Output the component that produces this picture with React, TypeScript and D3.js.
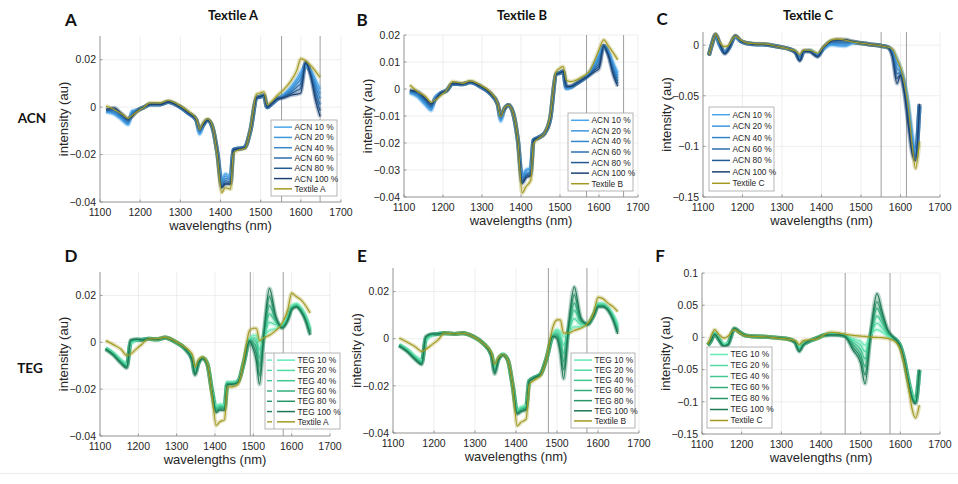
import * as d3 from 'd3'

// wavelength grids (nm)
const waveAB = [1115, 1135, 1155, 1170, 1180, 1195, 1210, 1225, 1250, 1270, 1295, 1320, 1340, 1348, 1357, 1368, 1380, 1392, 1403, 1412, 1425, 1432, 1445, 1460, 1475, 1490, 1500, 1508, 1516, 1528, 1542, 1558, 1575, 1590, 1600, 1612, 1625, 1637, 1648]
const waveC = [1115, 1122, 1132, 1142, 1155, 1165, 1182, 1195, 1210, 1230, 1260, 1290, 1320, 1335, 1345, 1355, 1370, 1390, 1405, 1425, 1440, 1460, 1480, 1500, 1511, 1525, 1541, 1555, 1568, 1580, 1591, 1600, 1610, 1620, 1630, 1638, 1648]

// intensities, in thousandths of au
const textileA = [0.5, -1, -3, -4.7, -3.5, -1.5, 0, 1.8, 1.7, 2.8, 1, -1.8, -5, -9.5, -6.5, -5, -8, -20, -36, -34, -34.5, -19.5, -18, -17.5, -9, 5.5, 6, 6.5, 1, 2.5, 5, 7.5, 11, 15.5, 20.5, 19.5, 17.5, 15, 12.5]
const acnA10 = [-2, -3, -5.5, -7.5, -1.5, -1.2, 0, 1.2, 1.2, 2.2, 0.5, -2.5, -5.5, -11.5, -7.5, -5.5, -8.5, -19, -30, -28, -29, -18, -17.5, -17, -9.5, 4, 4.5, 5, 0, 1.5, 3.5, 5.5, 8.5, 12, 15, 17, 15.5, 11.5, 7.5]
const acnA20 = [-1.8, -2.6, -5, -7, -2, -1.2, 0, 1.2, 1.2, 2.2, 0.5, -2.5, -5.5, -11, -7.5, -5.5, -8.5, -19, -31, -29, -30, -18, -17.5, -17, -9.5, 4, 4.5, 5, 0, 1.5, 3.5, 5.2, 7.8, 11, 13.5, 17.5, 15, 10, 5.5]
const acnA40 = [-1.6, -2.2, -4.5, -6.5, -2.5, -1.2, 0, 1.2, 1.2, 2.2, 0.5, -2.5, -5.5, -10.5, -7.5, -5.5, -8.5, -19, -32, -30, -30.5, -18, -17.5, -17, -9.5, 4, 4.5, 5, 0, 1.5, 3.5, 4.9, 7, 9.8, 12, 18, 14.5, 8.5, 3.5]
const acnA60 = [-1.4, -1.6, -4, -6, -3, -1.2, 0, 1.2, 1.2, 2.2, 0.5, -2.5, -5.5, -10, -7.5, -5.5, -8.5, -19, -33, -31, -31.5, -18, -17.5, -17, -9.5, 4, 4.5, 5, 0, 1.5, 3.5, 4.6, 6.3, 8.5, 10, 18.5, 14, 6.5, 1]
const acnA80 = [-1.2, -1, -3.5, -5.5, -3.5, -1.2, 0, 1.2, 1.2, 2.2, 0.5, -2.5, -5.5, -9.5, -7.5, -5.5, -8.5, -19, -33.5, -32, -32, -18, -17.5, -17, -9.5, 4, 4.5, 5, 0, 1.5, 3.5, 4.3, 5.6, 7, 8, 19, 13.5, 4.5, -1.5]
const acnA100 = [-1, -0.3, -3, -5, -4, -1.2, 0, 1.2, 1.2, 2.2, 0.5, -2.5, -5.5, -9.5, -7.5, -5.5, -8.5, -19, -34, -32.5, -32.5, -18, -17.5, -17, -9.5, 4, 4.5, 5, 0, 1.5, 3.5, 4, 5, 5.5, 6, 19, 13, 2.5, -4]

const textileB = [1.5, -1, -2.8, -5, -4, -2.2, -0.4, 2.7, 2.1, 3, 1.5, -1, -5.3, -10.3, -7.2, -6, -9, -19, -38.5, -36.3, -33.8, -20.2, -18.3, -16.5, -10.3, 6.4, 7.7, 8.3, 3.3, 2.7, 3.3, 4.6, 6.4, 10.8, 14.5, 18.2, 15.7, 13.3, 10.8]
const acnB10 = [-1.5, -3, -6, -8, -3, -1.5, -0.5, 2, 1.8, 2.5, 1, -1.5, -5.5, -12, -7.5, -6, -9, -19, -32, -30, -29, -19, -18, -16.5, -11, 5.5, 6, 6.5, 0, 0.5, 2, 3.5, 6, 10, 13, 16, 13.5, 9.5, 6]
const acnB20 = [-1.3, -2.6, -5.5, -7.5, -3.2, -1.5, -0.5, 2, 1.8, 2.5, 1, -1.5, -5.5, -11.5, -7.5, -6, -9, -19, -32.5, -30.5, -29.5, -19, -18, -16.5, -11, 5.5, 6, 6.5, 0.2, 0.6, 2, 3.5, 5.8, 9.3, 12, 16, 13.3, 8.7, 5]
const acnB40 = [-1.1, -2.2, -5, -7, -3.4, -1.5, -0.5, 2, 1.8, 2.5, 1, -1.5, -5.5, -11, -7.5, -6, -9, -19, -33, -31.5, -30.5, -19, -18, -16.5, -11, 5.5, 6, 6.5, 0.4, 0.7, 2, 3.5, 5.6, 8.6, 11, 16, 13, 7.9, 4]
const acnB60 = [-0.9, -1.8, -4.5, -6.5, -3.6, -1.5, -0.5, 2, 1.8, 2.5, 1, -1.5, -5.5, -10.5, -7.5, -6, -9, -19, -34, -32, -31, -19, -18, -16.5, -11, 5.5, 6, 6.5, 0.6, 0.8, 2, 3.5, 5.4, 7.9, 9.5, 16, 12.6, 7, 3]
const acnB80 = [-0.7, -1.4, -4, -6, -3.8, -1.5, -0.5, 2, 1.8, 2.5, 1, -1.5, -5.5, -10, -7.5, -6, -9, -19, -34.5, -32.5, -31.5, -19, -18, -16.5, -11, 5.5, 6, 6.5, 0.8, 0.9, 2, 3.5, 5.2, 7.2, 8.5, 16, 12.3, 6, 2]
const acnB100 = [-0.5, -1, -3.5, -5.5, -4, -1.5, -0.5, 2, 1.8, 2.5, 1, -1.5, -5.5, -10, -7.5, -6, -9, -19, -35, -33, -32, -19, -18, -16.5, -11, 5.5, 6, 6.5, 1, 1, 2, 3.5, 5, 6.5, 7.5, 16, 12, 5, 1]

const textileC = [-10, 0, 11, 3, -1.5, 0, 9, 5, 2.3, 1.5, 1, -1.5, -4, -6, -9, -5, -5, -8, -2, 5, 6, 5, 3, 2, 1.5, 0.5, 0, -1, -2, -4, -14, -22, -38, -62, -100, -122, -95]
const acnC10 = [-10, 0, 9, 0, -6, -3, 8, 4, 2, 1, 0.5, -1.5, -4, -7, -13, -6, -5, -9, -4, 0, -0.5, -1, 2, 2, 1.5, 0.5, 0, -1, -2, -5, -13, -22, -36, -58, -88, -104, -61]
const acnC20 = [-10, 0, 9.5, 0.5, -6.5, -3, 8.5, 4, 2, 1, 0.5, -1.5, -4, -7, -13.5, -6, -5.5, -9.5, -3.5, 1, 0.5, 0, 2.5, 2, 1.5, 0.5, 0, -1, -2, -6, -18, -24, -38, -62, -92, -106, -60]
const acnC40 = [-10, 0, 10, 1, -7, -3, 8.5, 4, 2, 1, 0.5, -1.5, -4, -7, -14, -6, -5.5, -10, -3, 2, 2, 1.5, 3, 2, 1.5, 0.5, 0, -1, -2, -7, -23, -26, -40, -66, -96, -108, -60]
const acnC60 = [-10, 0, 10, 1, -7.5, -3.5, 9, 4, 2, 1, 0.5, -1.5, -4, -7.5, -14.5, -6, -6, -10.5, -3, 3, 3, 3, 3, 2, 1.5, 0.5, 0, -1, -2, -9, -28, -27, -43, -70, -100, -110, -59]
const acnC80 = [-10, 0, 10.5, 1.5, -8, -3.5, 9, 4, 2, 1, 0.5, -1.5, -4, -7.5, -15, -6, -6, -11, -2.5, 4, 4.5, 4.5, 3.5, 2, 1.5, 0.5, 0, -1, -2, -11, -33, -29, -46, -75, -104, -112, -58]
const acnC100 = [-10, 0, 11, 2, -8.5, -3.5, 9.5, 4.5, 2, 1, 0.5, -1.5, -4, -8, -15.5, -6, -6.5, -11.5, -2.5, 4, 5.5, 5.5, 3.5, 2, 1.5, 0.5, 0, -1, -2, -12, -38, -30, -48, -80, -108, -114, -58]

const textileAteg = [0.7, -1, -3, -5.6, -5, -2.8, -0.7, 1.4, 1.5, 2.1, 0.5, -2, -5, -10.5, -7.5, -6.3, -9, -22, -35.5, -34, -33, -19, -19, -18, -8, 5, 6, 6, 0.7, 2, 3, 5, 8, 14, 21, 19.5, 18, 15.5, 12.5]
const tegD10 = [-2.5, -4.5, -7.5, -9, -1, 0.8, 1, 1.5, 1.2, 2, 0.3, -2.5, -6.5, -12, -8.5, -6.5, -9, -20, -27, -26.5, -26.5, -17, -17, -16.5, -8.5, 1.5, 3, 3, 0.5, 2.5, 5, 5.8, 7.5, 11, 15.5, 16.5, 14.5, 11, 6]
const tegD20 = [-2.6, -4.7, -7.8, -9.4, -0.5, 0.9, 1, 1.5, 1.2, 2, 0.3, -2.5, -6.7, -12.4, -8.6, -6.6, -9.1, -20.2, -27.6, -27, -27, -17.2, -17.2, -16.6, -8.6, 1.2, 2, 1.5, -3, 2.8, 8.5, 7.5, 7.2, 10.7, 15.2, 16.2, 14.2, 10.6, 5.4]
const tegD40 = [-2.7, -4.9, -8.1, -9.8, 0, 1, 1, 1.5, 1.2, 2, 0.3, -2.5, -6.9, -12.8, -8.7, -6.7, -9.2, -20.4, -28.2, -27.5, -27.5, -17.4, -17.4, -16.7, -8.7, 1, 1, 0, -6.5, 3.2, 12, 8.8, 6.9, 10.4, 14.9, 15.9, 13.9, 10.2, 4.8]
const tegD60 = [-2.8, -5.1, -8.4, -10.2, 0.4, 1.1, 1, 1.5, 1.2, 2, 0.3, -2.5, -7.1, -13.2, -8.8, -6.8, -9.3, -20.6, -28.8, -28, -28, -17.6, -17.6, -16.8, -8.8, 0.8, 0, -2.5, -10, 3.6, 15.5, 9.8, 6.6, 10.1, 14.6, 15.6, 13.6, 9.8, 4.2]
const tegD80 = [-2.9, -5.3, -8.7, -10.6, 0.7, 1.2, 1, 1.5, 1.2, 2, 0.3, -2.5, -7.3, -13.6, -8.9, -6.9, -9.4, -20.8, -29.4, -28.5, -28.5, -17.8, -17.8, -16.9, -8.9, 0.6, -1.5, -5, -14, 4, 19.5, 10.6, 6.3, 9.8, 14.3, 15.3, 13.3, 9.4, 3.5]
const tegD100 = [-3, -5.5, -9, -11, 1, 1.3, 1, 1.5, 1.2, 2, 0.3, -2.5, -7.5, -14, -9, -7, -9.5, -21, -30, -29, -29, -18, -18, -17, -9, 0.5, -3, -8, -18, 4.5, 23, 11.3, 6, 9.5, 14, 15, 13, 9, 3]

const textileBteg = [0.3, -1.5, -3.5, -5.4, -4.5, -2.5, -0.5, 2.4, 2, 2.4, 1, -2, -6, -11, -8, -6.8, -9, -20, -37, -35.5, -34, -19.5, -17.5, -15.5, -8, 5, 8, 8, 2.4, 2.5, 3.5, 4.5, 6.5, 11, 17.5, 17, 15, 13.5, 11.5]
const tegE10 = [-2.5, -4.5, -7.5, -9, -1, 1.5, 2, 2.4, 2, 2.4, 1, -2, -6.5, -11.5, -8.5, -6.5, -9, -20, -30, -29, -28, -18, -16.5, -15, -8, 1.5, 4, 3, 1, 2.5, 5, 5, 6.5, 10.5, 15, 15, 13, 10, 6]
const tegE20 = [-2.6, -4.7, -7.8, -9.4, -0.6, 1.6, 2, 2.4, 2, 2.4, 1, -2, -6.6, -12.2, -8.6, -6.6, -9, -20, -30.4, -29.4, -28.4, -18, -16.5, -15, -8, 1.4, 3.2, 1.5, -2.5, 3, 8.5, 6, 6.4, 10.4, 14.7, 14.7, 12.8, 9.6, 5.2]
const tegE40 = [-2.7, -4.9, -8.1, -9.8, -0.2, 1.7, 2, 2.4, 2, 2.4, 1, -2, -6.7, -12.9, -8.7, -6.7, -9, -20, -30.8, -29.8, -28.8, -18, -16.5, -15, -8, 1.3, 2.4, 0, -6, 3.5, 12, 7, 6.3, 10.3, 14.4, 14.4, 12.6, 9.2, 4.4]
const tegE60 = [-2.8, -5.1, -8.4, -10.2, 0.2, 1.8, 2, 2.4, 2, 2.4, 1, -2, -6.8, -13.6, -8.8, -6.8, -9, -20, -31.2, -30.2, -29.2, -18, -16.5, -15, -8, 1.2, 1.6, -2, -9.5, 4, 15, 7.5, 6.2, 10.2, 14.1, 14.1, 12.4, 8.8, 3.6]
const tegE80 = [-2.9, -5.3, -8.7, -10.6, 0.6, 1.9, 2, 2.4, 2, 2.4, 1, -2, -6.9, -14.3, -8.9, -6.9, -9, -20, -31.6, -30.6, -29.6, -18, -16.5, -15, -8, 1.1, 0.8, -4, -13, 4.5, 18.5, 8.2, 6.1, 10.1, 13.8, 13.8, 12.2, 8.4, 2.8]
const tegE100 = [-3, -5.5, -9, -11, 1, 2, 2, 2.4, 2, 2.4, 1, -2, -7, -15, -9, -7, -9, -20, -32, -31, -30, -18, -16.5, -15, -8, 1, 0, -6, -17, 5, 22, 9, 6, 10, 13.5, 13.5, 12, 8, 2]

const textileCteg = [-11, 0, 12, 5, -1, 1.5, 12, 7, 2.5, 1.5, 1, -1, -3, -5, -11, -5, -4, -2, 3, 8, 7, 5, 3, 2, 1.5, 0.5, 0, -0.5, -1.5, -4, -9, -18, -42, -75, -112, -125, -105]
const tegF10 = [-12, -6, 7, -1, -10, -8, 13, 8, 3, 1.5, 1, -0.5, -3, -7, -15, -10, -6, -1, 3, 6, 5, 3, -2, -6, -12, 3, 12, 8, 2, -1, -5, -13, -34, -64, -88, -96, -52]
const tegF20 = [-12, -6, 6.5, -1.5, -11, -9, 13.2, 8, 3, 1.5, 1, -0.5, -3, -7.2, -16.5, -10.4, -6, -1, 3, 5.6, 4.8, 2.8, -4.5, -12, -22, 3.5, 22, 14, 4, -0.5, -5, -13.2, -34.4, -64.8, -89.4, -97.4, -51.6]
const tegF40 = [-12, -6, 6, -2, -12, -10, 13.4, 8, 3, 1.5, 1, -0.5, -3, -7.4, -18, -10.8, -6, -1, 3, 5.2, 4.6, 2.6, -7.5, -19, -33, 4, 33, 21, 6.5, 0, -5, -13.4, -34.8, -65.6, -90.8, -98.8, -51.2]
const tegF60 = [-12, -6, 5.5, -2.5, -12.5, -10.5, 13.6, 8, 3, 1.5, 1, -0.5, -3, -7.6, -19.5, -11.2, -6, -1, 3, 4.8, 4.4, 2.4, -11, -26, -45, 4.5, 45, 27, 8.5, 0.5, -5, -13.6, -35.2, -66.4, -92.2, -100.2, -50.8]
const tegF80 = [-12, -6, 5, -3, -13.5, -11, 13.8, 8, 3, 1.5, 1, -0.5, -3, -7.8, -21, -11.6, -6, -1, 3, 4.4, 4.2, 2.2, -15, -33, -58, 5, 55, 33, 10.5, 1, -5, -13.8, -35.6, -67.2, -93.6, -101.6, -50.4]
const tegF100 = [-12, -6, 4.5, -3.5, -14, -12, 14, 8, 3, 1.5, 1, -0.5, -3, -8, -22, -12, -6, -1, 3, 4, 4, 2, -19, -40, -72, 5, 68, 38, 12, 1.5, -5, -14, -36, -68, -95, -103, -50]

const acnNames = ['ACN 10 %', 'ACN 20 %', 'ACN 40 %', 'ACN 60 %', 'ACN 80 %', 'ACN 100 %']
const tegNames = ['TEG 10 %', 'TEG 20 %', 'TEG 40 %', 'TEG 60 %', 'TEG 80 %', 'TEG 100 %']
const acnColors = ['#4aa6ea', '#3c96dc', '#3485c9', '#2b6fae', '#245a92', '#1c4272']
const tegColors = ['#66eab6', '#52dba4', '#41c791', '#33ad7c', '#299468', '#1f7854']
const textileColor = '#a39a22'

const FONT = '"Liberation Sans", Arial, sans-serif'
const BOLD = 'Lato, "Open Sans", sans-serif'

interface PanelSpec {
  letter: string
  letterX: number
  letterY: number
  title?: string
  titleX?: number
  left: number
  right: number
  top: number
  bottom: number
  yDomain: [number, number]
  yTicks: number[]
  waves: number[]
  series: number[][]
  textile: number[]
  textileName: string
  colors: string[]
  names: string[]
  marks: number[]
  legend: { x: number; y: number; w: number; h: number; stub?: boolean }
}

const panels: PanelSpec[] = [
  {
    letter: 'A', letterX: 71, letterY: 26, title: 'Textile A', titleX: 233,
    left: 100, right: 341, top: 36, bottom: 202,
    yDomain: [-0.04, 0.03], yTicks: [-0.04, -0.02, 0, 0.02],
    waves: waveAB, series: [acnA10, acnA20, acnA40, acnA60, acnA80, acnA100], textile: textileA,
    textileName: 'Textile A', colors: acnColors, names: acnNames, marks: [1552, 1648],
    legend: { x: 271, y: 120, w: 66, h: 76 }
  },
  {
    letter: 'B', letterX: 362, letterY: 26, title: 'Textile B', titleX: 522,
    left: 404, right: 638, top: 35, bottom: 197,
    yDomain: [-0.04, 0.02], yTicks: [-0.04, -0.03, -0.02, -0.01, 0, 0.01, 0.02],
    waves: waveAB, series: [acnB10, acnB20, acnB40, acnB60, acnB80, acnB100], textile: textileB,
    textileName: 'Textile B', colors: acnColors, names: acnNames, marks: [1568, 1663],
    legend: { x: 568, y: 113, w: 65, h: 78 }
  },
  {
    letter: 'C', letterX: 662, letterY: 25, title: 'Textile C', titleX: 808,
    left: 703, right: 940, top: 32, bottom: 197,
    yDomain: [-0.15, 0.013], yTicks: [-0.15, -0.1, -0.05, 0],
    waves: waveC, series: [acnC10, acnC20, acnC40, acnC60, acnC80, acnC100], textile: textileC,
    textileName: 'Textile C', colors: acnColors, names: acnNames, marks: [1551, 1615],
    legend: { x: 709, y: 107, w: 65, h: 84 }
  },
  {
    letter: 'D', letterX: 71, letterY: 262,
    left: 100, right: 330, top: 272, bottom: 436,
    yDomain: [-0.04, 0.03], yTicks: [-0.04, -0.02, 0, 0.02],
    waves: waveAB, series: [tegD10, tegD20, tegD40, tegD60, tegD80, tegD100], textile: textileAteg,
    textileName: 'Textile A', colors: tegColors, names: tegNames, marks: [1492, 1578],
    legend: { x: 265, y: 353, w: 75, h: 76, stub: true }
  },
  {
    letter: 'E', letterX: 362, letterY: 262,
    left: 393, right: 639, top: 268, bottom: 433,
    yDomain: [-0.04, 0.03], yTicks: [-0.04, -0.02, 0, 0.02],
    waves: waveAB, series: [tegE10, tegE20, tegE40, tegE60, tegE80, tegE100], textile: textileBteg,
    textileName: 'Textile B', colors: tegColors, names: tegNames, marks: [1479, 1573],
    legend: { x: 571, y: 353, w: 64, h: 75 }
  },
  {
    letter: 'F', letterX: 660, letterY: 262,
    left: 702, right: 940, top: 273, bottom: 434,
    yDomain: [-0.15, 0.1], yTicks: [-0.15, -0.1, -0.05, 0, 0.05, 0.1],
    waves: waveC, series: [tegF10, tegF20, tegF40, tegF60, tegF80, tegF100], textile: textileCteg,
    textileName: 'Textile C', colors: tegColors, names: tegNames, marks: [1461, 1574],
    legend: { x: 707, y: 347, w: 65, h: 81 }
  }
]

const fmtY = (v: number) => (v === 0 ? '0' : String(+v.toFixed(3)).replace('-', '\u2212'))

function SpectraPanel({ p }: { p: PanelSpec }) {
  const x = d3.scaleLinear().domain([1100, 1700]).range([p.left, p.right])
  const y = d3.scaleLinear().domain(p.yDomain).range([p.bottom, p.top])
  const line = d3.line<number>()
    .x((_, i) => x(p.waves[i]))
    .y(v => y(v / 1000))
    .curve(d3.curveMonotoneX)
  const xTicks = x.ticks(6)
  const all = [...p.series.map((s, i) => ({ s, c: p.colors[i] })), { s: p.textile, c: textileColor }]
  const lg = p.legend
  const rowH = (lg.h - 4) / 7
  const lx = lg.stub ? lg.x + 9 : lg.x
  const labels = [...p.names, p.textileName]
  const lcolors = [...p.colors, textileColor]

  return (
    <g>
      {/* grid */}
      {xTicks.map(t => (
        <line key={'gx' + t} x1={x(t)} x2={x(t)} y1={p.top} y2={p.bottom} stroke="#e6e6e6" strokeWidth={0.7} />
      ))}
      {p.yTicks.map(t => (
        <line key={'gy' + t} x1={p.left} x2={p.right} y1={y(t)} y2={y(t)} stroke="#e6e6e6" strokeWidth={0.7} />
      ))}
      {/* marker lines */}
      {p.marks.map(m => (
        <line key={'m' + m} x1={x(m)} x2={x(m)} y1={p.top} y2={p.bottom} stroke="#949494" strokeWidth={0.9} />
      ))}
      {/* spectra: band then line */}
      {all.map((d, i) => (
        <path key={'b' + i} d={line(d.s) ?? ''} fill="none" stroke={d.c} strokeOpacity={0.3} strokeWidth={4.2} strokeLinejoin="round" />
      ))}
      {all.map((d, i) => (
        <path key={'l' + i} d={line(d.s) ?? ''} fill="none" stroke={d.c} strokeWidth={1.2} strokeLinejoin="round" />
      ))}
      {/* axes */}
      <line x1={p.left} x2={p.right} y1={p.bottom} y2={p.bottom} stroke="#858585" strokeWidth={0.8} />
      <line x1={p.left} x2={p.left} y1={p.top} y2={p.bottom} stroke="#858585" strokeWidth={0.8} />
      {xTicks.map(t => (
        <g key={'xt' + t}>
          <line x1={x(t)} x2={x(t)} y1={p.bottom} y2={p.bottom - 2.5} stroke="#858585" strokeWidth={0.8} />
          <text x={x(t)} y={p.bottom + 13.5} textAnchor="middle" fontSize={10.5} fill="#262626" fontFamily={FONT}>{t}</text>
        </g>
      ))}
      {p.yTicks.map(t => (
        <g key={'yt' + t}>
          <line x1={p.left} x2={p.left + 2.5} y1={y(t)} y2={y(t)} stroke="#858585" strokeWidth={0.8} />
          <text x={p.left - 4} y={y(t)} dy="0.36em" textAnchor="end" fontSize={10.5} fill="#262626" fontFamily={FONT}>{fmtY(t)}</text>
        </g>
      ))}
      <text x={(p.left + p.right) / 2} y={p.bottom + 28} textAnchor="middle" fontSize={13} fill="#262626" fontFamily={FONT}>
        wavelengths (nm)
      </text>
      <text transform={`translate(${p.left - 32},${(p.top + p.bottom) / 2}) rotate(-90)`} textAnchor="middle" fontSize={13} fill="#262626" fontFamily={FONT}>
        intensity (au)
      </text>
      {/* legend */}
      <rect x={lg.x} y={lg.y} width={lg.w} height={lg.h} fill="#fff" stroke="#a3a3a3" strokeWidth={0.8} />
      {lg.stub && <line x1={lx} x2={lx} y1={lg.y} y2={lg.y + lg.h} stroke="#a3a3a3" strokeWidth={0.8} />}
      {labels.map((name, i) => {
        const cy = lg.y + 2 + rowH * (i + 0.5)
        return (
          <g key={'lg' + i}>
            {lg.stub && <line x1={lg.x + 2} x2={lg.x + 7} y1={cy} y2={cy} stroke={lcolors[i]} strokeWidth={1.4} />}
            <line x1={lx + 3} x2={lx + 21} y1={cy} y2={cy} stroke={lcolors[i]} strokeWidth={1.5} />
            <text x={lx + 23.5} y={cy} dy="0.35em" fontSize={8.4} fill="#262626" fontFamily={FONT}>{name}</text>
          </g>
        )
      })}
      {/* panel letter + title */}
      <text x={p.letterX} y={p.letterY} textAnchor="middle" fontSize={17} fontWeight={700} fill="#111" fontFamily={BOLD}>{p.letter}</text>
      {p.title && (
        <text x={p.titleX} y={19.5} textAnchor="middle" fontSize={13} fontWeight={700} fill="#111" fontFamily={BOLD}>{p.title}</text>
      )}
    </g>
  )
}

export default function App() {
  return (
    <svg width={958} height={484} style={{ position: 'absolute', left: 0, top: 0, background: '#fff' }}>
      <rect width={958} height={484} fill="#fff" />
      {panels.map(p => <SpectraPanel key={p.letter} p={p} />)}
      <text x={32} y={122.5} textAnchor="middle" fontSize={13.5} fontWeight={700} fill="#111" fontFamily={BOLD}>ACN</text>
      <text x={30} y={372.5} textAnchor="middle" fontSize={13.5} fontWeight={700} fill="#111" fontFamily={BOLD}>TEG</text>
      <line x1={0} x2={958} y1={473.5} y2={473.5} stroke="#ececec" strokeWidth={1} />
    </svg>
  )
}
